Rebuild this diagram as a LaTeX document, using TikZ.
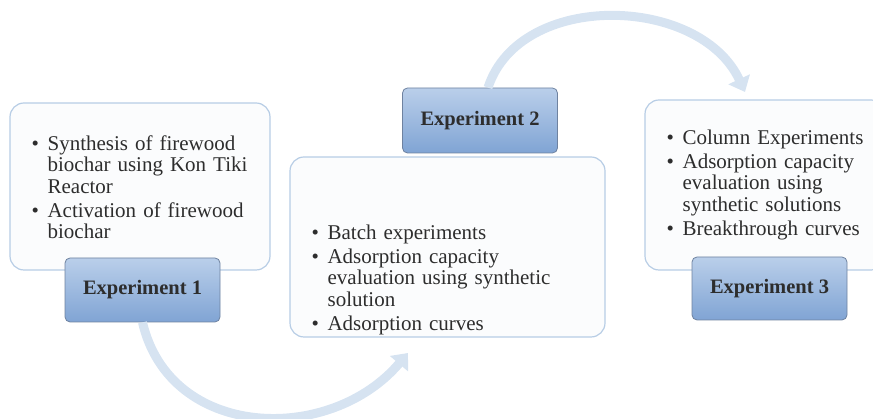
\documentclass[tikz,border=0pt]{standalone}
\usepackage{fontspec}
\setmainfont{Liberation Serif}
\usepackage{xcolor}
\usetikzlibrary{arrows.meta, positioning}

\definecolor{arrowblue}{RGB}{214,227,241}
\definecolor{boxline}{RGB}{183,205,229}
\definecolor{boxfill}{RGB}{251,252,253}
\definecolor{labtop}{RGB}{186,207,234}
\definecolor{labbot}{RGB}{128,164,212}
\definecolor{labline}{RGB}{110,130,160}
\definecolor{textgray}{RGB}{45,45,45}

\newcommand{\bitem}[1]{\par\noindent\hangindent=16pt\hangafter=1\makebox[16pt][l]{\textbullet}#1\par}
\newcommand{\nl}{\hfil\break}

\begin{document}
\begin{tikzpicture}[x=1pt, y=1pt,
    stagebox/.style={draw=boxline, line width=1.2pt, fill=boxfill, rounded corners=14pt, inner sep=0pt},
    explabel/.style={draw=labline, line width=0.8pt, top color=labtop, bottom color=labbot, rounded corners=5pt,
        minimum width=155pt, minimum height=64pt, text=textgray, font=\bfseries\fontsize{20.5}{22}\selectfont},
    itemtext/.style={inner sep=0pt, align=left, text width=#1, text=textgray,
        font=\fontsize{21}{21.5}\selectfont,
        execute at begin node={\setlength{\parskip}{2.5pt}\hyphenpenalty=10000}},
    flow/.style={draw=arrowblue, line width=9pt, -{Triangle[length=14pt, width=23pt]}}
  ]
  \useasboundingbox (0,0) rectangle (873,419);
  \clip (0,0) rectangle (873,419);

  % the three stages
  \node[stagebox, minimum width=260pt, minimum height=167pt] (box1) at (140,232.5) {};
  \node[stagebox, minimum width=315pt, minimum height=180pt] (box2) at (447.5,172) {};
  \node[stagebox, minimum width=240pt, minimum height=170pt] (box3) at (765,234) {};

  \node[itemtext=240pt, below right=23.5pt and 22pt of box1.north west] (list1) {%
    \bitem{Synthesis of firewood\nl biochar using Kon Tiki\nl Reactor}
    \bitem{Activation of firewood\nl biochar}};
  \node[itemtext=270pt, below right=58.5pt and 22pt of box2.north west] (list2) {%
    \bitem{Batch experiments}
    \bitem{Adsorption capacity\nl evaluation using synthetic\nl solution}
    \bitem{Adsorption curves}};
  \node[itemtext=230pt, below right=20.5pt and 22pt of box3.north west] (list3) {%
    \bitem{Column Experiments}
    \bitem{Adsorption capacity\nl evaluation using\nl synthetic solutions}
    \bitem{Breakthrough curves}};

  \node[explabel] (lab1) at (142.5,129) {Experiment 1};
  \node[explabel, minimum height=65pt] (lab2) at (480,298.5) {Experiment 2};
  \node[explabel, minimum height=63pt] (lab3) at (769.5,130.5) {Experiment 3};

  % curved arrows between stages
  \coordinate (tip1) at (408,66);
  \coordinate (tip2) at (745,327);
  \draw[flow] (lab1.south) .. controls (170,-21) and (330,-26) .. (tip1);
  \draw[flow] ([xshift=8pt]lab2.north) .. controls (520,429) and (700,424) .. (tip2);
\end{tikzpicture}
\end{document}
